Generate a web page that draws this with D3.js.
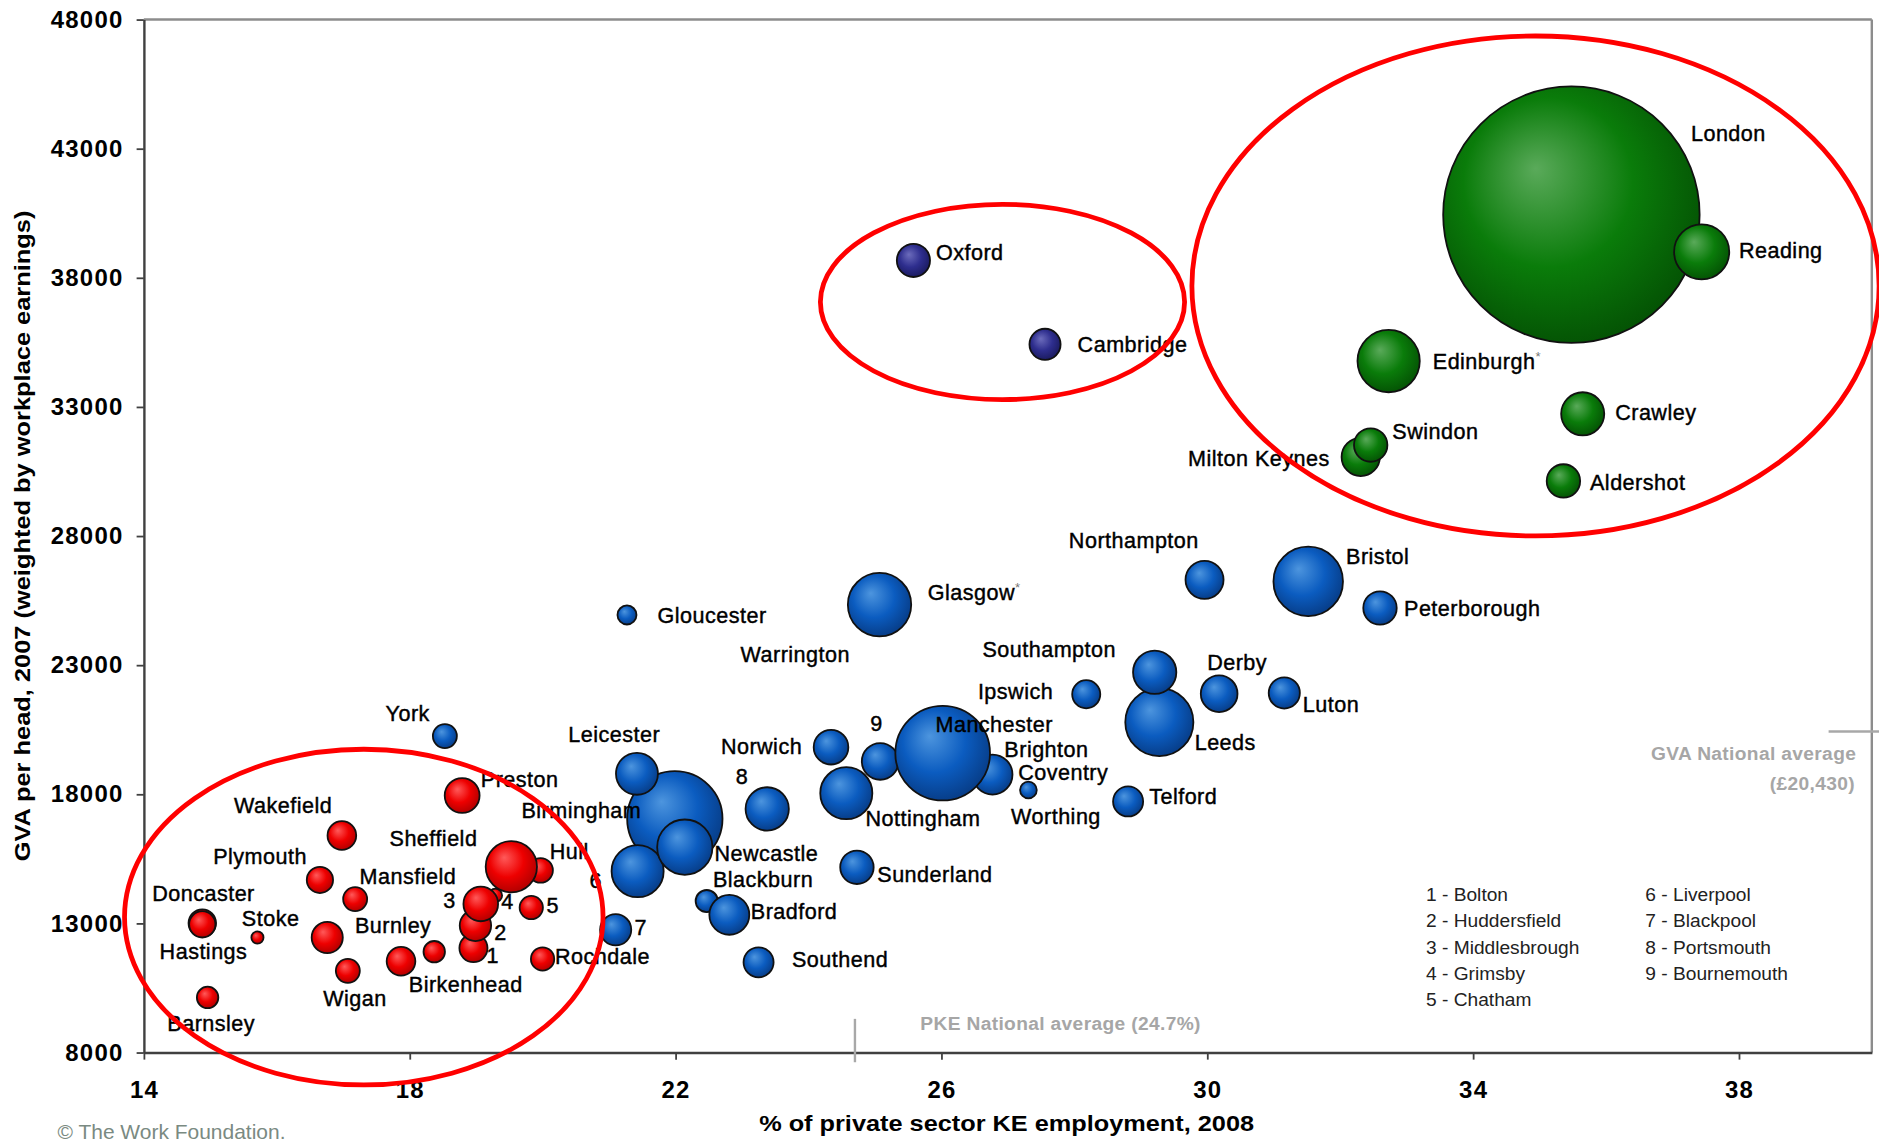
<!DOCTYPE html>
<html>
<head>
<meta charset="utf-8">
<script src="https://cdn.jsdelivr.net/npm/d3@7"></script>
<style>
  body { margin: 0; background: #fff; }
  text { font-family: "Liberation Sans", Arial, sans-serif; }
</style>
</head>
<body>
<svg id="chart" width="1879" height="1145" viewBox="0 0 1568 955"></svg>
<script>
// [name, % private sector KE employment 2008, GVA per head 2007, bubble size]
var redCities = [
    ["Doncaster", 14.88, 13010, 46],
    ["Hastings", 14.88, 12960, 42],
    ["Barnsley", 14.96, 10130, 28],
    ["Stoke", 15.71, 12450, 9],
    ["Plymouth", 16.65, 14680, 42],
    ["Wakefield", 16.98, 16400, 50],
    ["Mansfield", 17.18, 13940, 35],
    ["Burnley", 16.76, 12450, 59],
    ["Wigan", 17.07, 11160, 35],
    ["Birkenhead", 17.87, 11530, 50],
    ["", 18.37, 11900, 28],
    ["Rochdale", 20.00, 11620, 33],
    ["Preston", 18.79, 17950, 74],
    ["Bolton", 18.96, 12040, 48],
    ["Huddersfield", 18.99, 12920, 60],
    ["Grimsby", 19.29, 14080, 11],
    ["Middlesbrough", 19.07, 13750, 73],
    ["Chatham", 19.83, 13610, 33],
    ["Hull", 19.97, 15050, 37],
    ["Sheffield", 19.53, 15190, 160]
];
var blueCities = [
    ["York", 18.53, 20250, 35],
    ["Gloucester", 21.27, 24940, 22],
    ["Birmingham", 21.99, 17050, 553],
    ["Leicester", 21.42, 18790, 107],
    ["Liverpool", 21.43, 15020, 165],
    ["Newcastle", 22.14, 15950, 186],
    ["Blackpool", 21.10, 12750, 59],
    ["Blackburn", 22.47, 13860, 30],
    ["Bradford", 22.81, 13330, 97],
    ["Southend", 23.25, 11490, 55],
    ["Portsmouth", 23.38, 17430, 114],
    ["Norwich", 24.34, 19820, 73],
    ["Bournemouth", 25.08, 19270, 82],
    ["Nottingham", 24.57, 18040, 165],
    ["Sunderland", 24.73, 15170, 68],
    ["Coventry", 26.77, 18760, 70],
    ["Brighton", 26.77, 18760, 97],
    ["Worthing", 27.31, 18160, 17],
    ["Manchester", 26.02, 19590, 545],
    ["Ipswich", 28.18, 21870, 48],
    ["Leeds", 29.28, 20790, 282],
    ["Southampton", 29.21, 22720, 114],
    ["Derby", 30.18, 21890, 82],
    ["Telford", 28.81, 17720, 55],
    ["Warrington", 25.10, 25170, 79],
    ["Glasgow", 25.07, 25340, 244],
    ["Northampton", 29.96, 26300, 88],
    ["Bristol", 31.52, 26240, 294],
    ["Peterborough", 32.60, 25210, 68],
    ["Luton", 31.16, 21920, 59]
];
var navyCities = [
    ["Oxford", 25.58, 38670, 67],
    ["Cambridge", 27.56, 35420, 59]
];
var greenCities = [
    ["London", 35.48, 40440, 4000],
    ["Reading", 37.44, 39000, 185],
    ["Edinburgh", 32.73, 34770, 236],
    ["Crawley", 35.65, 32730, 113],
    ["Milton Keynes", 32.31, 31060, 89],
    ["Swindon", 32.46, 31520, 68],
    ["Aldershot", 35.36, 30130, 68]
];

var numbered = { Bolton: "1", Huddersfield: "2", Middlesbrough: "3", Grimsby: "4", Chatham: "5",
    Liverpool: "6", Blackpool: "7", Portsmouth: "8", Bournemouth: "9" };
var starred = ["Glasgow", "Edinburgh"];

var legendLeft = ["1 - Bolton", "2 - Huddersfield", "3 - Middlesbrough", "4 - Grimsby", "5 - Chatham"];
var legendRight = ["6 - Liverpool", "7 - Blackpool", "8 - Portsmouth", "9 - Bournemouth"];

var xTicks = [14, 18, 22, 26, 30, 34, 38];
var yTicks = [8000, 13000, 18000, 23000, 28000, 33000, 38000, 43000, 48000];

var gvaNational = 20430;
var pkeNational = 24.7;

// red rings drawn over the chart: centre and radii in data units
var rings = [
    { cx: 17.31, cy: 13240, rx: 3.60, ry: 6500 },
    { cx: 26.92, cy: 37060, rx: 2.74, ry: 3780 },
    { cx: 34.94, cy: 37680, rx: 5.17, ry: 9680 }
];

// label position relative to bubble centre (px)
var labelOffsets = {
    Doncaster: [1, -25], Hastings: [1, 23], Barnsley: [3, 22], Stoke: [11, -16],
    Plymouth: [-50, -20], Wakefield: [-49, -25], Mansfield: [44, -19], Burnley: [55, -10],
    Wigan: [6, 23], Birkenhead: [54, 19], Rochdale: [50, -2], Preston: [48, -13],
    Bolton: [16, 6], Huddersfield: [21, 6], Middlesbrough: [-26, -3], Grimsby: [10, 5],
    Chatham: [18, -2], Hull: [24, -16], Sheffield: [-65, -24],
    York: [-31, -19], Gloucester: [71, 0], Birmingham: [-78, -7], Leicester: [-19, -33],
    Liverpool: [-35, 8], Newcastle: [68, 5], Blackpool: [21, -2], Blackburn: [47, -18],
    Bradford: [54, -3], Southend: [68, -2], Portsmouth: [-21, -27], Norwich: [-58, -1],
    Bournemouth: [-3, -32], Nottingham: [64, 21], Sunderland: [65, 6], Coventry: [59, -2],
    Brighton: [45, -21], Worthing: [23, 22], Manchester: [43, -24], Ipswich: [-59, -2],
    Leeds: [55, 17], Southampton: [-88, -19], Derby: [15, -26], Telford: [46, -4],
    Warrington: [-72, 38], Glasgow: [79, -10], Northampton: [-59, -33], Bristol: [58, -21],
    Peterborough: [77, 0], Luton: [39, 10],
    Oxford: [47, -7], Cambridge: [73, 0],
    London: [131, -68], Reading: [66, -1], Edinburgh: [82, 0], Crawley: [61, -1],
    "Milton Keynes": [-85, 1], Swindon: [54, -11], Aldershot: [62, 1]
};

var series = [
    { key: "red", cities: redCities, colors: ["#ff5a5a", "#ee0000", "#b00000"] },
    { key: "blue", cities: blueCities, colors: ["#4d95de", "#0b5cc0", "#073c86"] },
    { key: "navy", cities: navyCities, colors: ["#6c6cbc", "#2e2e8e", "#1a1a5e"] },
    { key: "green", cities: greenCities, colors: ["#5aaa5a", "#0a7c0a", "#045204"] }
];

var plotLeft = 120, plotRight = 1562, plotTop = 16, plotBottom = 878;

var svg = d3.select('#chart');
var x = d3.scaleLinear().domain([14, 40]).range([plotLeft, plotRight]);
var y = d3.scaleLinear().domain([8000, 48000]).range([plotBottom, plotTop]);
var r = d3.scaleSqrt().domain([0, 4000]).range([0, 107]);

var defs = svg.append('defs');
series.forEach(function(s) {
    var g = defs.append('radialGradient')
        .attr('id', 'grad-' + s.key)
        .attr('cx', '45%').attr('cy', '42%').attr('r', '60%')
        .attr('fx', '36%').attr('fy', '32%');
    g.append('stop').attr('offset', '0%').attr('stop-color', s.colors[0]);
    g.append('stop').attr('offset', '55%').attr('stop-color', s.colors[1]);
    g.append('stop').attr('offset', '100%').attr('stop-color', s.colors[2]);
});

// plot frame
svg.append('line').attr('x1', plotLeft).attr('x2', plotRight).attr('y1', plotTop).attr('y2', plotTop)
    .attr('stroke', '#8c8c8c').attr('stroke-width', 2);
svg.append('line').attr('x1', plotRight).attr('x2', plotRight).attr('y1', plotTop).attr('y2', plotBottom)
    .attr('stroke', '#8c8c8c').attr('stroke-width', 2);

var xAxis = svg.append('g').attr('transform', 'translate(0,' + plotBottom + ')')
    .call(d3.axisBottom(x).tickValues(xTicks).tickFormat(d3.format('d'))
        .tickSize(6).tickSizeOuter(0).tickPadding(18));
var yAxis = svg.append('g').attr('transform', 'translate(' + plotLeft + ',0)')
    .call(d3.axisLeft(y).tickValues(yTicks).tickFormat(d3.format('d'))
        .tickSize(6).tickSizeOuter(0).tickPadding(11));

[xAxis, yAxis].forEach(function(a) {
    a.select('.domain').attr('stroke', '#404040').attr('stroke-width', 2);
    a.selectAll('.tick line').attr('stroke', '#404040').attr('stroke-width', 1.5);
    a.selectAll('.tick text')
        .attr('fill', '#000')
        .style('font-family', '"Liberation Sans", Arial, sans-serif')
        .style('font-size', '20px')
        .style('font-weight', 'bold')
        .style('letter-spacing', '1px');
});

// national average markers
svg.append('line')
    .attr('x1', x(39.35)).attr('x2', x(40.15))
    .attr('y1', y(gvaNational)).attr('y2', y(gvaNational))
    .attr('stroke', '#a8a8a8').attr('stroke-width', 2);
svg.append('line')
    .attr('x1', x(pkeNational)).attr('x2', x(pkeNational))
    .attr('y1', y(9300)).attr('y2', y(7620))
    .attr('stroke', '#a8a8a8').attr('stroke-width', 2);

var noteStyle = function(t) {
    t.attr('fill', '#a6a6a6').style('font-size', '16px').style('font-weight', 'bold')
        .style('letter-spacing', '0.3px');
};
svg.append('text').attr('x', 1549).attr('y', 628).attr('dy', '0.35em')
    .attr('text-anchor', 'end').text('GVA National average').call(noteStyle);
svg.append('text').attr('x', 1548).attr('y', 653).attr('dy', '0.35em')
    .attr('text-anchor', 'end').text('(£20,430)').call(noteStyle);
svg.append('text').attr('x', 768).attr('y', 854).attr('dy', '0.35em')
    .text('PKE National average (24.7%)').call(noteStyle);

// bubbles
series.forEach(function(s) {
    svg.append('g').selectAll('circle').data(s.cities).enter().append('circle')
        .attr('cx', function(d) { return x(d[1]); })
        .attr('cy', function(d) { return y(d[2]); })
        .attr('r', function(d) { return r(d[3]); })
        .attr('fill', 'url(#grad-' + s.key + ')')
        .attr('stroke', '#111')
        .attr('stroke-width', 1.5);
});

// bubble labels
var all = [].concat(redCities, blueCities, navyCities, greenCities).filter(function(d) {
    return d[0] !== "" && labelOffsets[d[0]];
});
var labels = svg.append('g').selectAll('text').data(all).enter().append('text')
    .attr('x', function(d) { return x(d[1]) + labelOffsets[d[0]][0]; })
    .attr('y', function(d) { return y(d[2]) + labelOffsets[d[0]][1]; })
    .attr('dy', '0.35em')
    .attr('text-anchor', 'middle')
    .attr('fill', '#000')
    .attr('stroke', '#000').attr('stroke-width', 0.35)
    .style('font-size', '18px')
    .style('letter-spacing', '0.4px')
    .text(function(d) { return numbered[d[0]] || d[0]; });
labels.filter(function(d) { return starred.indexOf(d[0]) >= 0; })
    .append('tspan').attr('fill', '#777').attr('stroke', 'none').style('font-size', '11px')
    .attr('baseline-shift', '60%').text('*');

// legend for numbered bubbles
svg.append('g').selectAll('text').data(legendLeft).enter().append('text')
    .attr('x', 1190).attr('y', function(d, i) { return 746 + i * 22; })
    .attr('dy', '0.35em').attr('fill', '#222').style('font-size', '16px')
    .text(function(d) { return d; });
svg.append('g').selectAll('text').data(legendRight).enter().append('text')
    .attr('x', 1373).attr('y', function(d, i) { return 746 + i * 22; })
    .attr('dy', '0.35em').attr('fill', '#222').style('font-size', '16px')
    .text(function(d) { return d; });

// red rings on top
svg.append('g').selectAll('ellipse').data(rings).enter().append('ellipse')
    .attr('cx', function(d) { return x(d.cx); })
    .attr('cy', function(d) { return y(d.cy); })
    .attr('rx', function(d) { return x(14 + d.rx) - x(14); })
    .attr('ry', function(d) { return y(8000) - y(8000 + d.ry); })
    .attr('fill', 'none')
    .attr('stroke', '#ff0000')
    .attr('stroke-width', 4);

// axis titles
svg.append('text')
    .attr('x', 840).attr('y', 937).attr('dy', '0.35em')
    .attr('text-anchor', 'middle')
    .attr('textLength', 413).attr('lengthAdjust', 'spacingAndGlyphs')
    .style('font-size', '19px').style('font-weight', 'bold')
    .text('% of private sector KE employment, 2008');
svg.append('text')
    .attr('transform', 'translate(18,447) rotate(-90)')
    .attr('dy', '0.35em')
    .attr('text-anchor', 'middle')
    .attr('textLength', 543).attr('lengthAdjust', 'spacingAndGlyphs')
    .style('font-size', '19px').style('font-weight', 'bold')
    .text('GVA per head, 2007 (weighted by workplace earnings)');

svg.append('text')
    .attr('x', 48).attr('y', 944).attr('dy', '0.35em')
    .attr('fill', '#7a8a82').style('font-size', '17.5px')
    .text('© The Work Foundation.');
</script>
</body>
</html>
